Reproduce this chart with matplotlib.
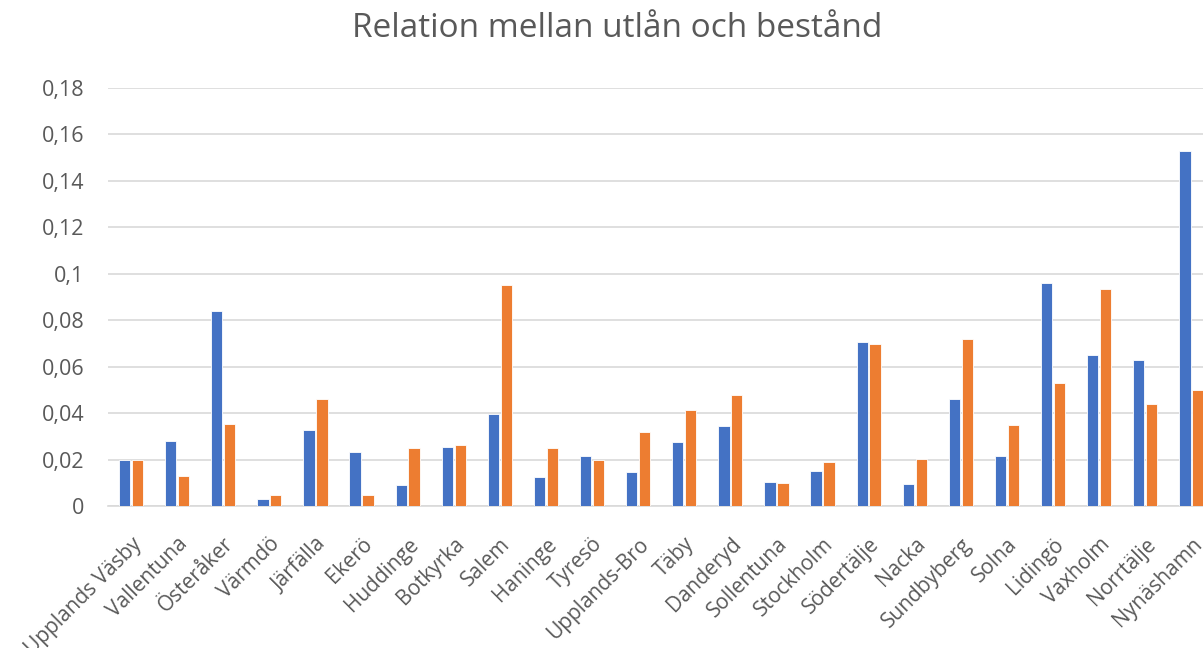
import matplotlib
matplotlib.use("Agg")
import matplotlib.pyplot as plt
from matplotlib.ticker import FuncFormatter
import numpy as np

categories = ["Upplands Väsby", "Vallentuna", "Österåker", "Värmdö", "Järfälla", "Ekerö",
              "Huddinge", "Botkyrka", "Salem", "Haninge", "Tyresö", "Upplands-Bro",
              "Täby", "Danderyd", "Sollentuna", "Stockholm", "Södertälje", "Nacka",
              "Sundbyberg", "Solna", "Lidingö", "Vaxholm", "Norrtälje", "Nynäshamn"]
series_blue = [0.0200, 0.0281, 0.0840, 0.0032, 0.0327, 0.0234,
               0.0089, 0.0252, 0.0394, 0.0125, 0.0214, 0.0148,
               0.0277, 0.0346, 0.0105, 0.0152, 0.0707, 0.0093,
               0.0459, 0.0214, 0.0961, 0.0650, 0.0627, 0.1526]
series_orange = [0.0200, 0.0128, 0.0354, 0.0046, 0.0459, 0.0046,
                 0.0250, 0.0261, 0.0950, 0.0250, 0.0199, 0.0320,
                 0.0412, 0.0479, 0.0100, 0.0188, 0.0697, 0.0202,
                 0.0717, 0.0350, 0.0529, 0.0934, 0.0440, 0.0498]
yticks = [0, 0.02, 0.04, 0.06, 0.08, 0.1, 0.12, 0.14, 0.16, 0.18]
title = "Relation mellan utlån och bestånd"

plt.rcParams['font.family'] = ['Open Sans', 'DejaVu Sans']

fig = plt.figure(figsize=(12.03, 6.48), dpi=100)
ax = fig.add_axes([108/1203, (648-506)/648, 1106.4/1203, (506-87.7)/648])

x = np.arange(len(categories))
w = 0.245
ax.bar(x - 0.14, series_blue, width=w, color="#4472C4", edgecolor="white", linewidth=0.6, zorder=3)
ax.bar(x + 0.14, series_orange, width=w, color="#ED7D31", edgecolor="white", linewidth=0.6, zorder=3)

ax.set_xlim(-0.5, len(categories) - 0.5)
ax.set_ylim(0, 0.18)
ax.set_yticks(yticks)
ax.yaxis.set_major_formatter(FuncFormatter(lambda v, p: ("%g" % round(v, 2)).replace(".", ",")))
ax.grid(axis="y", color="#D9D9D9", linewidth=1.2, zorder=0)
ax.set_axisbelow(True)
for s in ["top", "right", "left"]:
    ax.spines[s].set_visible(False)
ax.spines["bottom"].set_color("#D9D9D9")
ax.spines["bottom"].set_linewidth(1.2)
ax.tick_params(axis="y", length=0, pad=17, labelsize=15.5, labelcolor="#595959")
ax.tick_params(axis="x", length=0, pad=20, labelsize=15, labelcolor="#595959")
ax.set_xticks(x)
ax.set_xticklabels(categories, rotation=45, ha="right", va="top", rotation_mode="anchor")

fig.text(617/1203, 1 - 37/648, title, ha="center", va="baseline", fontsize=24, color="#595959")

fig.savefig("out.png", dpi=100)
